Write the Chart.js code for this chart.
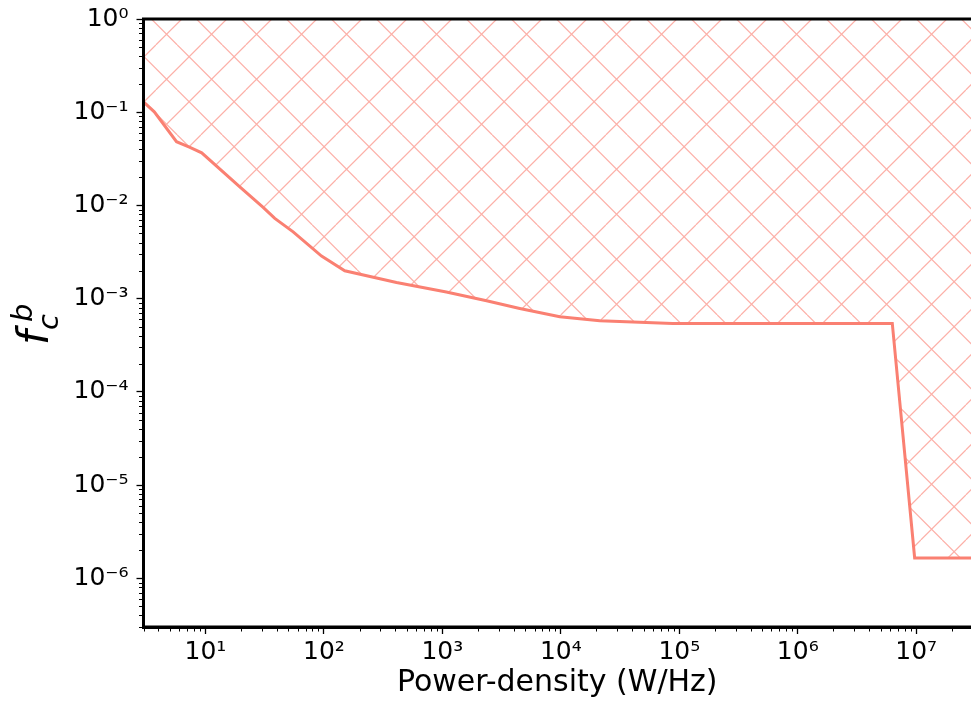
<!DOCTYPE html>
<html>
<head>
<meta charset="utf-8">
<script src="https://cdn.jsdelivr.net/npm/chart.js@4.4.1/dist/chart.umd.min.js"></script>
<style>
html,body{margin:0;padding:0;background:#ffffff;overflow:hidden;}
canvas{display:block;}
</style>
</head>
<body>
<canvas id="c" width="971" height="702"></canvas>
<script>
// ---- data ----
const powerDensity = [3, 3.7, 5.7, 7.4, 9.3, 19.5, 30.7, 38.5, 55, 95.5, 150, 410, 1080, 2360, 4500, 9800, 21300, 87900, 6.28e6, 9.7e6, 2.9e7];
const fcb = [0.129, 0.101, 0.0482, 0.042, 0.0367, 0.0158, 0.00953, 0.00726, 0.00521, 0.00286, 0.00199, 0.00149, 0.00118, 0.000947, 0.000785, 0.000638, 0.000578, 0.000542, 0.000542, 1.65e-6, 1.65e-6];
const xMajorExponents = [1, 2, 3, 4, 5, 6, 7];
const yMajorExponents = [0, -1, -2, -3, -4, -5, -6];
const xRange = [3, 2.9e7];
const yRange = [3e-7, 1];
const xTitle = 'Power-density (W/Hz)';
const yTitleBase = 'f', yTitleSub = 'c', yTitleSup = 'b';

const SUP = {'0':'\u2070','1':'\u00B9','2':'\u00B2','3':'\u00B3','4':'\u2074','5':'\u2075','6':'\u2076','7':'\u2077','8':'\u2078','9':'\u2079','-':'\u207B'};
function powLabel(e){ return '10' + String(e).split('').map(ch => SUP[ch]).join(''); }

function logTicks(min, max){
  const out = [];
  for (let e = Math.floor(Math.log10(min)); e <= Math.ceil(Math.log10(max)); e++) {
    for (let d = 1; d <= 9; d++) {
      const v = d * Math.pow(10, e);
      if (v >= min * 0.9999 && v <= max * 1.0001) out.push({value: v, major: d === 1});
    }
  }
  return out;
}
function labelFor(exps){
  return function(value, index, ticks){
    const t = ticks[index];
    if (!t || !t.major) return '';
    const e = Math.round(Math.log10(value));
    return exps.includes(e) ? powLabel(e) : '';
  };
}

const canvas = document.getElementById('c');
const mainCtx = canvas.getContext('2d');

function hatchPattern(){
  const s = 45;
  const tile = document.createElement('canvas');
  tile.width = s; tile.height = s;
  const g = tile.getContext('2d');
  g.strokeStyle = 'rgba(250,128,114,0.62)';
  g.lineWidth = 1.2;
  const c1 = 42.3, c2 = 20.8;
  g.beginPath();
  for (let k = -2; k <= 2; k++) {
    g.moveTo(c1 + s * k, 0); g.lineTo(c1 + s * k + s, s);
    g.moveTo(c2 + s * k, 0); g.lineTo(c2 + s * k - s, s);
  }
  g.stroke();
  return mainCtx.createPattern(tile, 'repeat');
}

const FONT = 'DejaVu Sans';

const decorPlugin = {
  id: 'decor',
  afterDatasetsDraw(chart){
    const {ctx, chartArea: a, scales} = chart;
    ctx.save();
    // minor ticks
    ctx.strokeStyle = '#000';
    ctx.lineWidth = 1;
    ctx.beginPath();
    scales.x.ticks.forEach(t => {
      if (t.major) return;
      const px = Math.round(scales.x.getPixelForValue(t.value)) + 0.5;
      ctx.moveTo(px, a.bottom); ctx.lineTo(px, a.bottom + 4.5);
    });
    scales.y.ticks.forEach(t => {
      if (t.major) return;
      const py = Math.round(scales.y.getPixelForValue(t.value)) + 0.5;
      ctx.moveTo(a.left - 4.5, py); ctx.lineTo(a.left, py);
    });
    ctx.stroke();
    // spines on top of data
    ctx.lineWidth = 3;
    ctx.lineCap = 'square';
    ctx.beginPath();
    ctx.moveTo(a.left, a.bottom); ctx.lineTo(a.left, a.top); ctx.lineTo(a.right + 5, a.top);
    ctx.moveTo(a.left, a.bottom); ctx.lineTo(a.right + 5, a.bottom);
    ctx.stroke();
    // y axis title f_c^b (rotated)
    const cy = (a.top + a.bottom) / 2;
    ctx.translate(48, cy + 22);
    ctx.rotate(-Math.PI / 2);
    ctx.fillStyle = '#000';
    ctx.textBaseline = 'alphabetic';
    ctx.textAlign = 'left';
    ctx.font = 'italic 42px "' + FONT + '"';
    ctx.fillText(yTitleBase, 0, 0);
    ctx.font = 'italic 29px "' + FONT + '"';
    ctx.fillText(yTitleSub, 15, 10);
    ctx.fillText(yTitleSup, 23, -16);
    ctx.restore();
  }
};

const majorTickColor = c => (c.tick && c.tick.major) ? '#000000' : 'rgba(0,0,0,0)';

new Chart(canvas, {
  type: 'line',
  data: {
    datasets: [{
      data: powerDensity.map((x, i) => ({x: x, y: fcb[i]})),
      borderColor: '#FA8072',
      borderWidth: 3,
      pointRadius: 0,
      tension: 0,
      fill: 'end',
      backgroundColor: hatchPattern(),
      clip: 0
    }]
  },
  options: {
    responsive: false,
    animation: false,
    devicePixelRatio: 1,
    layout: {padding: {top: 19, right: 0, left: 0, bottom: 0}},
    plugins: {legend: {display: false}, tooltip: {enabled: false}},
    scales: {
      x: {
        type: 'logarithmic',
        position: 'bottom',
        min: xRange[0], max: xRange[1],
        afterBuildTicks: s => { s.ticks = logTicks(xRange[0], xRange[1]); },
        afterFit: s => { s.height = 75; s.paddingLeft = 0; s.paddingRight = 0; },
        ticks: {autoSkip: false, maxRotation: 0, minRotation: 0, color: '#000', padding: 3,
                font: {family: FONT, size: 25}, callback: labelFor(xMajorExponents)},
        grid: {display: true, drawOnChartArea: false, drawTicks: true, tickLength: 7, tickWidth: 1.3, tickColor: majorTickColor},
        border: {display: true, color: '#000', width: 3},
        title: {display: true, text: xTitle, color: '#000', font: {family: FONT, size: 30}, padding: {top: 0, bottom: 1}}
      },
      y: {
        type: 'logarithmic',
        position: 'left',
        min: yRange[0], max: yRange[1],
        afterBuildTicks: s => { s.ticks = logTicks(yRange[0], yRange[1]); },
        afterFit: s => { s.width = 143.5; s.paddingTop = 0; s.paddingBottom = 0; },
        ticks: {autoSkip: false, color: '#000', padding: 8,
                font: {family: FONT, size: 25}, callback: labelFor(yMajorExponents)},
        grid: {display: true, drawOnChartArea: false, drawTicks: true, tickLength: 7, tickWidth: 1.3, tickColor: majorTickColor},
        border: {display: true, color: '#000', width: 3}
      }
    }
  },
  plugins: [decorPlugin]
});
</script>
</body>
</html>
